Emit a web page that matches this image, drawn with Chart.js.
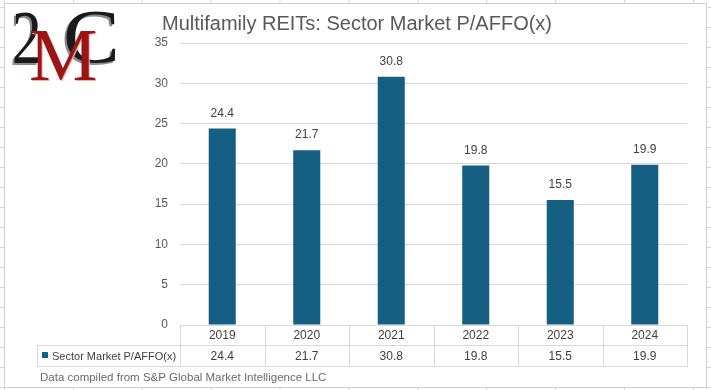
<!DOCTYPE html>
<html>
<head>
<meta charset="utf-8">
<script src="https://cdn.jsdelivr.net/npm/chart.js@4/dist/chart.umd.min.js"></script>
<style>
  html, body { margin: 0; padding: 0; }
  body {
    width: 711px; height: 390px; position: relative; overflow: hidden;
    background-color: #ffffff;
    background-image:
      linear-gradient(to right, #d6d6d6 1px, transparent 1px),
      linear-gradient(to bottom, #d6d6d6 1px, transparent 1px);
    background-size: 68.9px 100%, 100% 20px;
    background-position: 4px 0, 0 7px;
  }
  #frame {
    position: absolute; left: 4px; top: 3px; width: 701px; height: 383px;
    background: #ffffff; border: 1px solid #cfcfcf;
  }
  #c { position: absolute; left: 0; top: 0; }
</style>
</head>
<body>
<div id="frame"></div>
<canvas id="c" width="711" height="390"></canvas>
<script>
const titleText = 'Multifamily REITs: Sector Market P/AFFO(x)';
const seriesName = 'Sector Market P/AFFO(x)';
const categories = ['2019', '2020', '2021', '2022', '2023', '2024'];
const values = [24.4, 21.7, 30.8, 19.8, 15.5, 19.9];
const yMin = 0;
const yMax = 35;
const yStep = 5;
const sourceNote = 'Data compiled from S&P Global Market Intelligence LLC';

const BAR = '#156082';
const TXT = '#404040';
const AX = '#595959';
const LINE = '#d9d9d9';
const FONT = '"Liberation Sans", Arial, sans-serif';

const extras = {
  id: 'extras',
  afterDraw(chart) {
    const ctx = chart.ctx;
    const x = chart.scales.x;
    const area = chart.chartArea;
    const meta = chart.getDatasetMeta(0);
    ctx.save();
    // title
    ctx.fillStyle = AX;
    ctx.font = '20px ' + FONT;
    ctx.textAlign = 'center';
    ctx.textBaseline = 'middle';
    ctx.fillText(titleText, 357, 24);
    // data labels
    ctx.fillStyle = TXT;
    ctx.font = '12px ' + FONT;
    meta.data.forEach((bar, i) => {
      ctx.fillText(values[i].toFixed(1), bar.x, bar.y - 15);
    });
    // data table
    const half = (x.getPixelForValue(1) - x.getPixelForValue(0)) / 2;
    const top = area.bottom;
    const mid = top + 20;
    const bot = top + 41;
    const legL = 37;
    ctx.strokeStyle = LINE;
    ctx.lineWidth = 1;
    ctx.beginPath();
    ctx.moveTo(area.left, top + 0.5); ctx.lineTo(area.right, top + 0.5);
    ctx.moveTo(legL, mid + 0.5); ctx.lineTo(area.right, mid + 0.5);
    ctx.moveTo(legL, bot + 0.5); ctx.lineTo(area.right, bot + 0.5);
    ctx.moveTo(legL + 0.5, mid); ctx.lineTo(legL + 0.5, bot + 1);
    for (let i = 0; i <= categories.length; i++) {
      const px = Math.round(x.getPixelForValue(i) - half) + 0.5;
      ctx.moveTo(px, top); ctx.lineTo(px, bot + 1);
    }
    ctx.stroke();
    ctx.fillStyle = TXT;
    categories.forEach((c, i) => {
      const px = x.getPixelForValue(i);
      ctx.fillText(c, px, (top + mid) / 2 + 1);
      ctx.fillText(values[i].toFixed(1), px, (mid + bot) / 2 + 1);
    });
    ctx.fillStyle = BAR;
    ctx.fillRect(42, 352, 6, 6);
    ctx.fillStyle = TXT;
    ctx.textAlign = 'left';
    ctx.font = '11px ' + FONT;
    ctx.fillText(seriesName, 52, (mid + bot) / 2 + 1);
    // source note
    ctx.fillStyle = '#6a6a6a';
    ctx.font = '11.5px ' + FONT;
    ctx.fillText(sourceNote, 40, 378);
    // logo
    const serif = '"Liberation Serif", "DejaVu Serif", serif';
    ctx.textBaseline = 'alphabetic';
    ctx.font = '76px ' + serif;
    const glyph = (t, gx, gy, sx, col) => {
      ctx.save();
      ctx.translate(gx, gy);
      ctx.scale(sx, 1);
      ctx.fillStyle = col;
      ctx.fillText(t, 0, 0);
      ctx.restore();
    };
    glyph('2', 10, 65, 0.78, '#8a8a8a');
    glyph('C', 61, 64, 1.12, '#8a8a8a');
    glyph('2', 12, 63, 0.78, '#1a1a1a');
    glyph('C', 63, 62, 1.12, '#1a1a1a');
    ctx.font = '74px ' + serif;
    glyph('M', 30, 81, 1.04, '#e8b0b0');
    glyph('M', 29, 80, 1.04, '#9c1515');
    ctx.restore();
  }
};

new Chart(document.getElementById('c'), {
  type: 'bar',
  data: {
    labels: categories,
    datasets: [{
      label: seriesName,
      data: values,
      backgroundColor: BAR,
      borderWidth: 0,
      barPercentage: 0.64,
      categoryPercentage: 0.5
    }]
  },
  options: {
    responsive: false,
    animation: false,
    events: [],
    layout: { padding: { left: 0, right: 24, top: 43, bottom: 65 } },
    plugins: {
      legend: { display: false },
      tooltip: { enabled: false },
      title: { display: false }
    },
    scales: {
      x: { display: false },
      y: {
        min: yMin, max: yMax,
        afterFit(scale) { scale.width = 180; },
        border: { display: false },
        grid: { color: LINE, drawTicks: false, lineWidth: 1 },
        ticks: {
          stepSize: yStep,
          padding: 12,
          color: AX,
          font: { family: FONT, size: 12 }
        }
      }
    }
  },
  plugins: [extras]
});
</script>
</body>
</html>
